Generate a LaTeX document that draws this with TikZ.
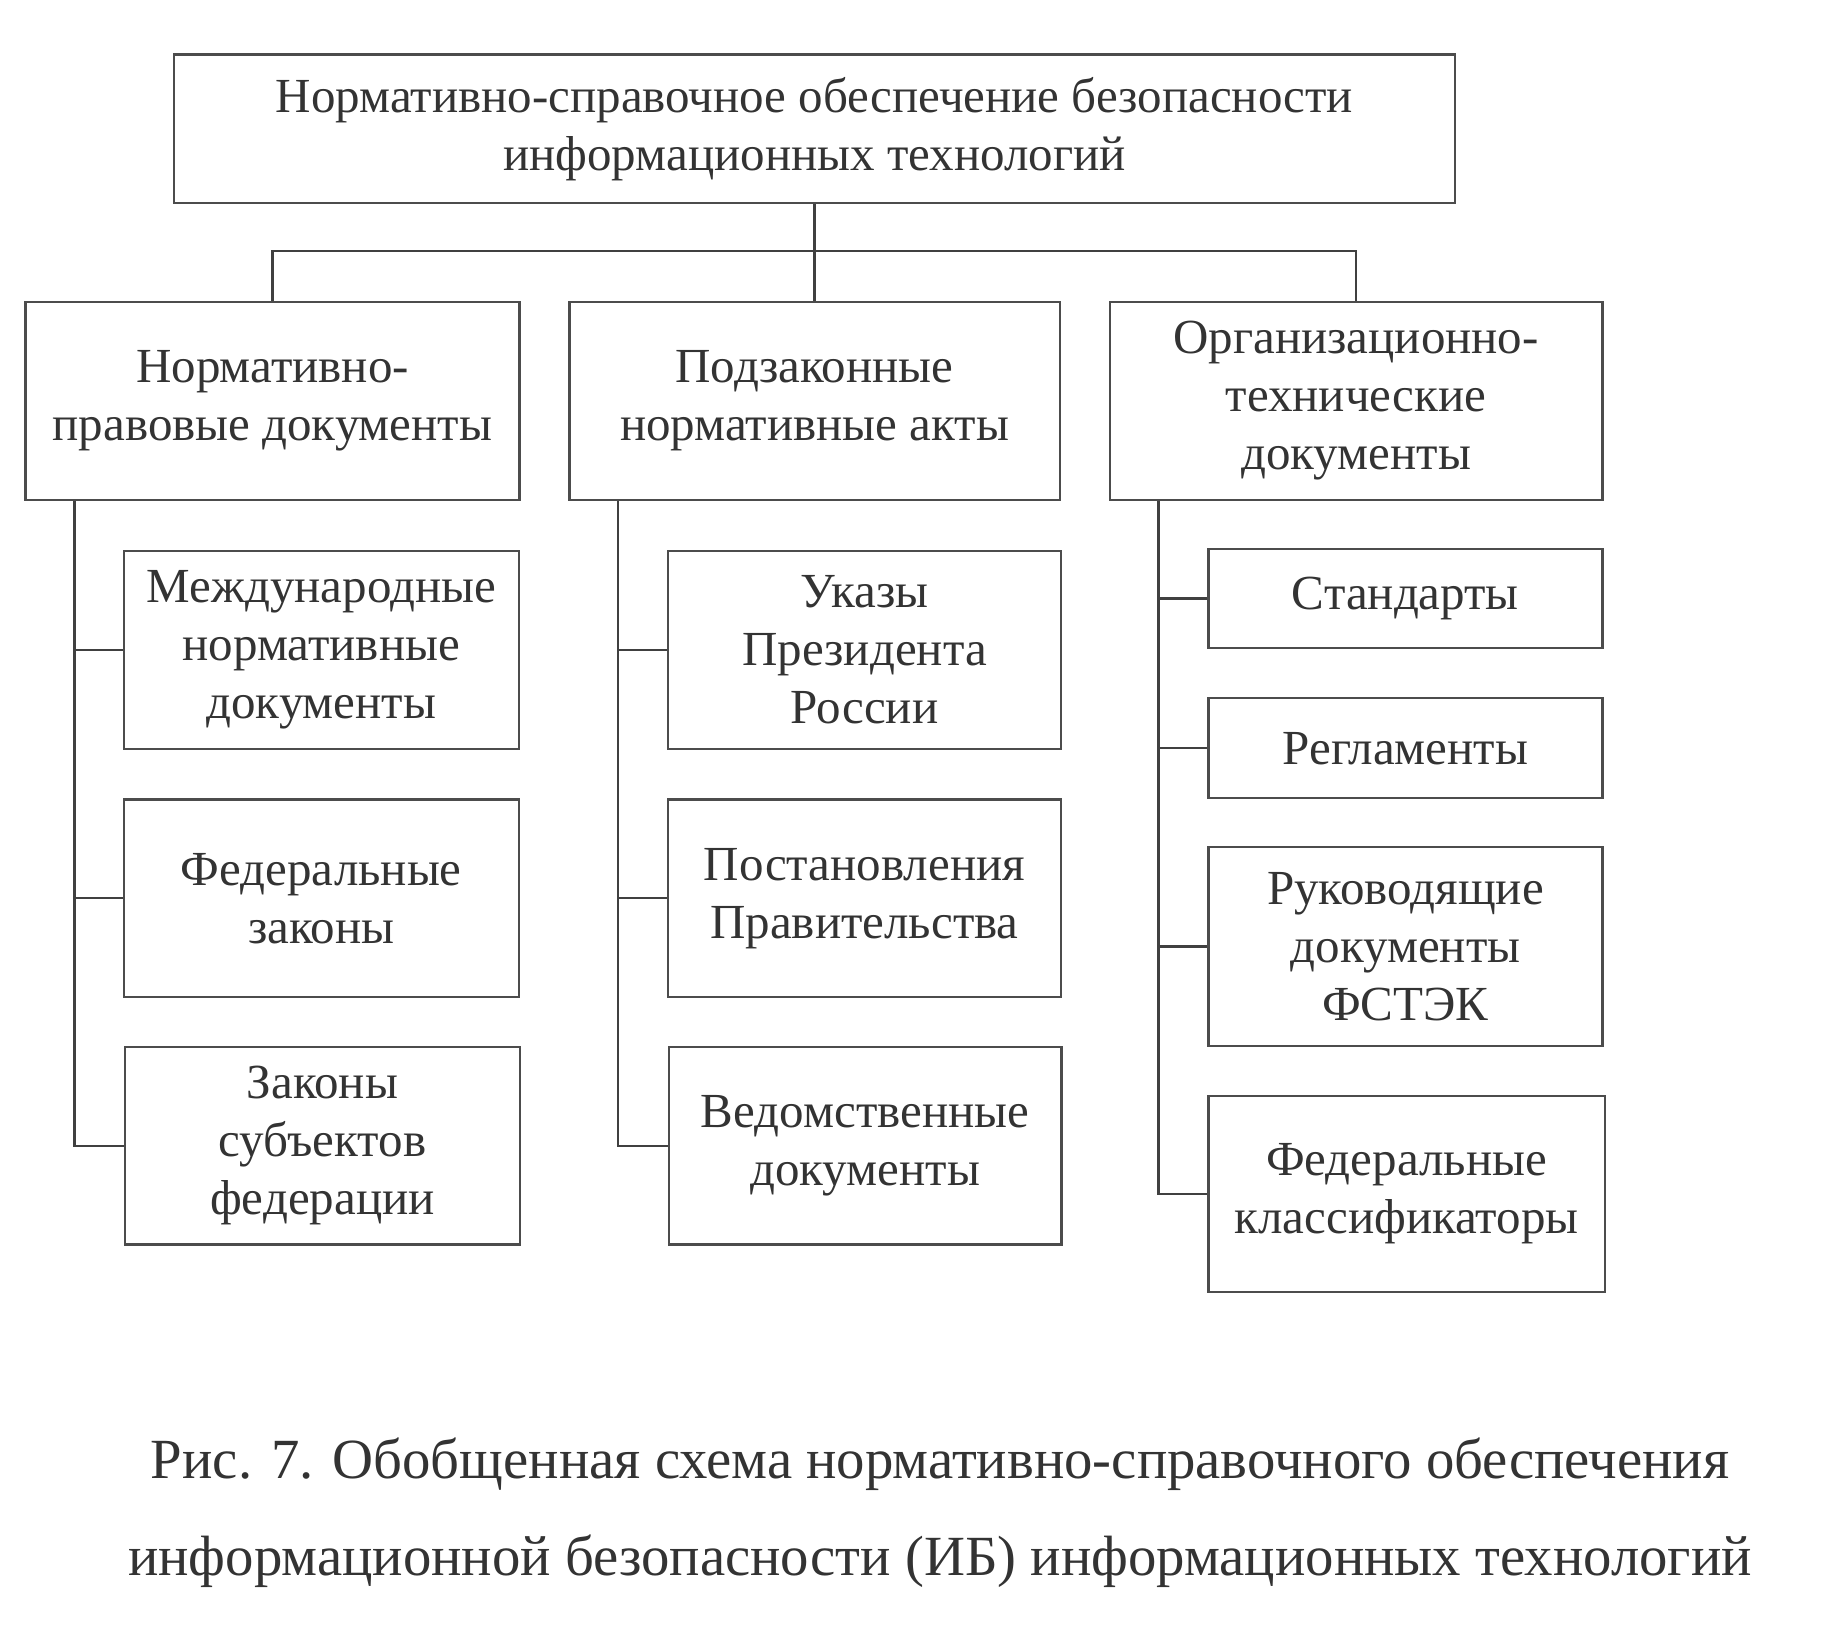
\documentclass[tikz,border=0pt]{standalone}
\usepackage{fontspec}
\setmainfont{Liberation Serif}
\usetikzlibrary{positioning}

\begin{document}
\begin{tikzpicture}[
  x=0.1mm, y=-0.1mm,
  font=\fontsize{12pt}{14.2pt}\selectfont,
  line width=0.55pt,
  box/.style={draw=black!70, align=center, inner sep=2pt, text=black!80},
  wide/.style={box, minimum width=42.5mm, minimum height=17mm},
  sub/.style={box, minimum width=34mm, minimum height=17mm},
  low/.style={box, minimum width=34mm, minimum height=8.5mm},
  link/.style={draw=black!75},
  caption/.style={font=\fontsize{13.9pt}{23.6pt}\selectfont, align=center, text=black!80},
]
\useasboundingbox (0,0) rectangle (1568,1411);
% Root of the scheme.
\node[box, minimum width=110.2mm, minimum height=12.8mm] (top) at (701,111)
  {Нормативно-справочное обеспечение безопасности\\информационных технологий};
% Three groups.
\node[wide] (L1) at (234.5,345) {Нормативно-\\правовые документы};
\node[wide, minimum width=42.2mm] (M1) at (701,345) {Подзаконные\\нормативные акты};
\node[wide, minimum width=42.4mm] (R1) at (1167,345) {Организационно-\\технические\\документы};
\draw[link] (top.south) -- ++(0,40) coordinate (hub);
\draw[link] (L1.north) |- (hub) -| (R1.north);
\draw[link] (hub) -- (M1.north);
% Left column.
\node[sub] (L11) at (276.5,559.5) {Международные\\нормативные\\документы};
\node[sub] (L12) at (276.5,773) {Федеральные\\законы};
\node[sub] (L13) at (277.5,986) {Законы\\субъектов\\федерации};
% Middle column.
\node[sub, minimum width=33.8mm] (M11) at (744,559.5) {Указы\\Президента\\России};
\node[sub, minimum width=33.8mm] (M12) at (744,773) {Постановления\\Правительства};
\node[sub, minimum width=33.8mm] (M13) at (744.5,986) {Ведомственные\\документы};
% Right column.
\node[low, minimum width=33.9mm] (R11) at (1209.5,515) {Стандарты};
\node[low, minimum width=33.9mm, minimum height=8.6mm] (R12) at (1209.5,644) {Регламенты};
\node[sub, minimum width=33.9mm, minimum height=17.1mm] (R13) at (1209.5,814.5) {Руководящие\\документы\\ФСТЭК};
\node[sub, minimum width=34.1mm, minimum height=16.9mm] (R14) at (1210.5,1027.5) {Федеральные\\классификаторы};
% Spines.
\coordinate (ls) at ([xshift=4.3mm]L1.south west);
\coordinate (ms) at ([xshift=4.3mm]M1.south west);
\coordinate (rs) at ([xshift=4.3mm]R1.south west);
\draw[link] (ls) |- (L13.west);
\draw[link] (ls |- L11.west) -- (L11.west);
\draw[link] (ls |- L12.west) -- (L12.west);
\draw[link] (ms) |- (M13.west);
\draw[link] (ms |- M11.west) -- (M11.west);
\draw[link] (ms |- M12.west) -- (M12.west);
\draw[link] (rs) |- (R14.west);
\draw[link] (rs |- R11.west) -- (R11.west);
\draw[link] (rs |- R12.west) -- (R12.west);
\draw[link] (rs |- R13.west) -- (R13.west);
% Caption.
\node[caption] (cap) at (809,1302)
  {Рис. 7. Обобщенная схема нормативно-справочного обеспечения\\
   информационной безопасности (ИБ) информационных технологий};
\end{tikzpicture}
\end{document}
